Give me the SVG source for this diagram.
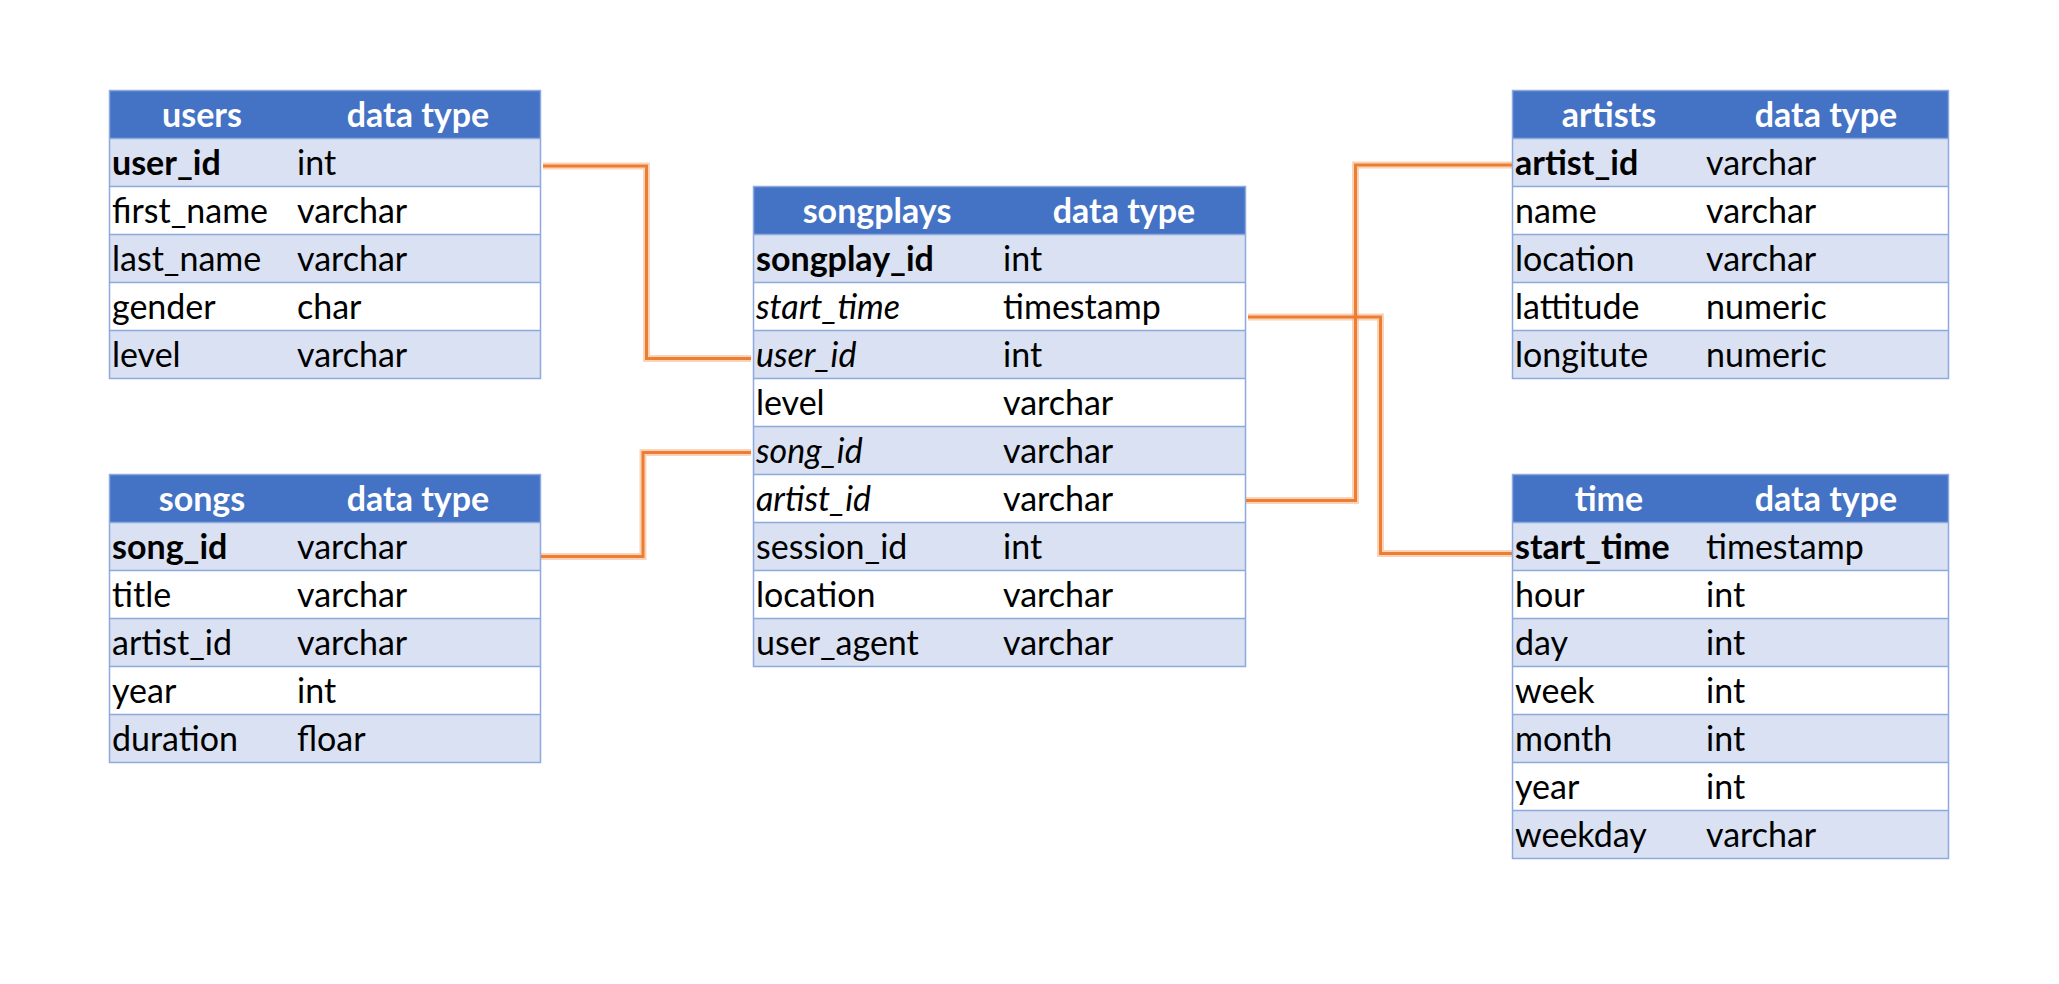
<svg xmlns="http://www.w3.org/2000/svg" width="2059" height="984" viewBox="0 0 2059 984">
<style>
.bg{fill:#ffffff}
.hd{fill:#4472C4}
.sh{fill:#D9E1F2}
.wh{fill:#ffffff}
.ln{stroke:#8EA9DB;stroke-width:1.5;fill:none}
text{font-family:Lato,"Liberation Sans",sans-serif;font-size:34px;fill:#000}
.ht{fill:#ffffff;font-weight:bold;text-anchor:middle}
.pk{font-weight:bold}
.fk{font-style:italic}
.glow{fill:none;stroke:#F4B183;stroke-width:7;opacity:0.55;stroke-linejoin:miter}
.core{fill:none;stroke:#ED7D31;stroke-width:3;stroke-linejoin:miter}
</style>
<rect class="bg" x="0" y="0" width="2059" height="984"/>

<g id="connectors">
<path class="glow" d="M543,166 H646.5 V358.5 H751"/>
<path class="glow" d="M536,556.5 H643 V452.5 H751"/>
<path class="glow" d="M1246,500.5 H1355.5 V165 H1512"/>
<path class="glow" d="M1248,317 H1380.5 V553.5 H1512"/>
<path class="core" d="M543,166 H646.5 V358.5 H751"/>
<path class="core" d="M536,556.5 H643 V452.5 H751"/>
<path class="core" d="M1246,500.5 H1355.5 V165 H1512"/>
<path class="core" d="M1248,317 H1380.5 V553.5 H1512"/>
</g>

<g id="users">
<rect class="hd" x="109.5" y="90.5" width="431" height="48"/>
<rect class="sh" x="109.5" y="138.5" width="431" height="48"/>
<rect class="wh" x="109.5" y="186.5" width="431" height="48"/>
<rect class="sh" x="109.5" y="234.5" width="431" height="48"/>
<rect class="wh" x="109.5" y="282.5" width="431" height="48"/>
<rect class="sh" x="109.5" y="330.5" width="431" height="48"/>
<path class="ln" d="M109.5,138.5H540.5M109.5,186.5H540.5M109.5,234.5H540.5M109.5,282.5H540.5M109.5,330.5H540.5"/>
<rect class="ln" x="109.5" y="90.5" width="431" height="288"/>
<text class="ht" x="202" y="127">users</text>
<text class="ht" x="418" y="127">data type</text>
<text class="pk" x="112" y="175">user_id</text><text x="297" y="175">int</text>
<text x="112" y="223">first_name</text><text x="297" y="223">varchar</text>
<text x="112" y="271">last_name</text><text x="297" y="271">varchar</text>
<text x="112" y="319">gender</text><text x="297" y="319">char</text>
<text x="112" y="367">level</text><text x="297" y="367">varchar</text>
</g>

<g id="songs">
<rect class="hd" x="109.5" y="474.5" width="431" height="48"/>
<rect class="sh" x="109.5" y="522.5" width="431" height="48"/>
<rect class="wh" x="109.5" y="570.5" width="431" height="48"/>
<rect class="sh" x="109.5" y="618.5" width="431" height="48"/>
<rect class="wh" x="109.5" y="666.5" width="431" height="48"/>
<rect class="sh" x="109.5" y="714.5" width="431" height="48"/>
<path class="ln" d="M109.5,522.5H540.5M109.5,570.5H540.5M109.5,618.5H540.5M109.5,666.5H540.5M109.5,714.5H540.5"/>
<rect class="ln" x="109.5" y="474.5" width="431" height="288"/>
<text class="ht" x="202" y="511">songs</text>
<text class="ht" x="418" y="511">data type</text>
<text class="pk" x="112" y="559">song_id</text><text x="297" y="559">varchar</text>
<text x="112" y="607">title</text><text x="297" y="607">varchar</text>
<text x="112" y="655">artist_id</text><text x="297" y="655">varchar</text>
<text x="112" y="703">year</text><text x="297" y="703">int</text>
<text x="112" y="751">duration</text><text x="297" y="751">floar</text>
</g>

<g id="songplays">
<rect class="hd" x="753.5" y="186.5" width="492" height="48"/>
<rect class="sh" x="753.5" y="234.5" width="492" height="48"/>
<rect class="wh" x="753.5" y="282.5" width="492" height="48"/>
<rect class="sh" x="753.5" y="330.5" width="492" height="48"/>
<rect class="wh" x="753.5" y="378.5" width="492" height="48"/>
<rect class="sh" x="753.5" y="426.5" width="492" height="48"/>
<rect class="wh" x="753.5" y="474.5" width="492" height="48"/>
<rect class="sh" x="753.5" y="522.5" width="492" height="48"/>
<rect class="wh" x="753.5" y="570.5" width="492" height="48"/>
<rect class="sh" x="753.5" y="618.5" width="492" height="48"/>
<path class="ln" d="M753.5,234.5H1245.5M753.5,282.5H1245.5M753.5,330.5H1245.5M753.5,378.5H1245.5M753.5,426.5H1245.5M753.5,474.5H1245.5M753.5,522.5H1245.5M753.5,570.5H1245.5M753.5,618.5H1245.5"/>
<rect class="ln" x="753.5" y="186.5" width="492" height="480"/>
<text class="ht" x="877" y="223">songplays</text>
<text class="ht" x="1124" y="223">data type</text>
<text class="pk" x="756" y="271">songplay_id</text><text x="1003" y="271">int</text>
<text class="fk" x="756" y="319">start_time</text><text x="1003" y="319">timestamp</text>
<text class="fk" x="756" y="367">user_id</text><text x="1003" y="367">int</text>
<text x="756" y="415">level</text><text x="1003" y="415">varchar</text>
<text class="fk" x="756" y="463">song_id</text><text x="1003" y="463">varchar</text>
<text class="fk" x="756" y="511">artist_id</text><text x="1003" y="511">varchar</text>
<text x="756" y="559">session_id</text><text x="1003" y="559">int</text>
<text x="756" y="607">location</text><text x="1003" y="607">varchar</text>
<text x="756" y="655">user_agent</text><text x="1003" y="655">varchar</text>
</g>

<g id="artists">
<rect class="hd" x="1512.5" y="90.5" width="436" height="48"/>
<rect class="sh" x="1512.5" y="138.5" width="436" height="48"/>
<rect class="wh" x="1512.5" y="186.5" width="436" height="48"/>
<rect class="sh" x="1512.5" y="234.5" width="436" height="48"/>
<rect class="wh" x="1512.5" y="282.5" width="436" height="48"/>
<rect class="sh" x="1512.5" y="330.5" width="436" height="48"/>
<path class="ln" d="M1512.5,138.5H1948.5M1512.5,186.5H1948.5M1512.5,234.5H1948.5M1512.5,282.5H1948.5M1512.5,330.5H1948.5"/>
<rect class="ln" x="1512.5" y="90.5" width="436" height="288"/>
<text class="ht" x="1609" y="127">artists</text>
<text class="ht" x="1826" y="127">data type</text>
<text class="pk" x="1515" y="175">artist_id</text><text x="1706" y="175">varchar</text>
<text x="1515" y="223">name</text><text x="1706" y="223">varchar</text>
<text x="1515" y="271">location</text><text x="1706" y="271">varchar</text>
<text x="1515" y="319">lattitude</text><text x="1706" y="319">numeric</text>
<text x="1515" y="367">longitute</text><text x="1706" y="367">numeric</text>
</g>

<g id="time">
<rect class="hd" x="1512.5" y="474.5" width="436" height="48"/>
<rect class="sh" x="1512.5" y="522.5" width="436" height="48"/>
<rect class="wh" x="1512.5" y="570.5" width="436" height="48"/>
<rect class="sh" x="1512.5" y="618.5" width="436" height="48"/>
<rect class="wh" x="1512.5" y="666.5" width="436" height="48"/>
<rect class="sh" x="1512.5" y="714.5" width="436" height="48"/>
<rect class="wh" x="1512.5" y="762.5" width="436" height="48"/>
<rect class="sh" x="1512.5" y="810.5" width="436" height="48"/>
<path class="ln" d="M1512.5,522.5H1948.5M1512.5,570.5H1948.5M1512.5,618.5H1948.5M1512.5,666.5H1948.5M1512.5,714.5H1948.5M1512.5,762.5H1948.5M1512.5,810.5H1948.5"/>
<rect class="ln" x="1512.5" y="474.5" width="436" height="384"/>
<text class="ht" x="1609" y="511">time</text>
<text class="ht" x="1826" y="511">data type</text>
<text class="pk" x="1515" y="559">start_time</text><text x="1706" y="559">timestamp</text>
<text x="1515" y="607">hour</text><text x="1706" y="607">int</text>
<text x="1515" y="655">day</text><text x="1706" y="655">int</text>
<text x="1515" y="703">week</text><text x="1706" y="703">int</text>
<text x="1515" y="751">month</text><text x="1706" y="751">int</text>
<text x="1515" y="799">year</text><text x="1706" y="799">int</text>
<text x="1515" y="847">weekday</text><text x="1706" y="847">varchar</text>
</g>
</svg>
